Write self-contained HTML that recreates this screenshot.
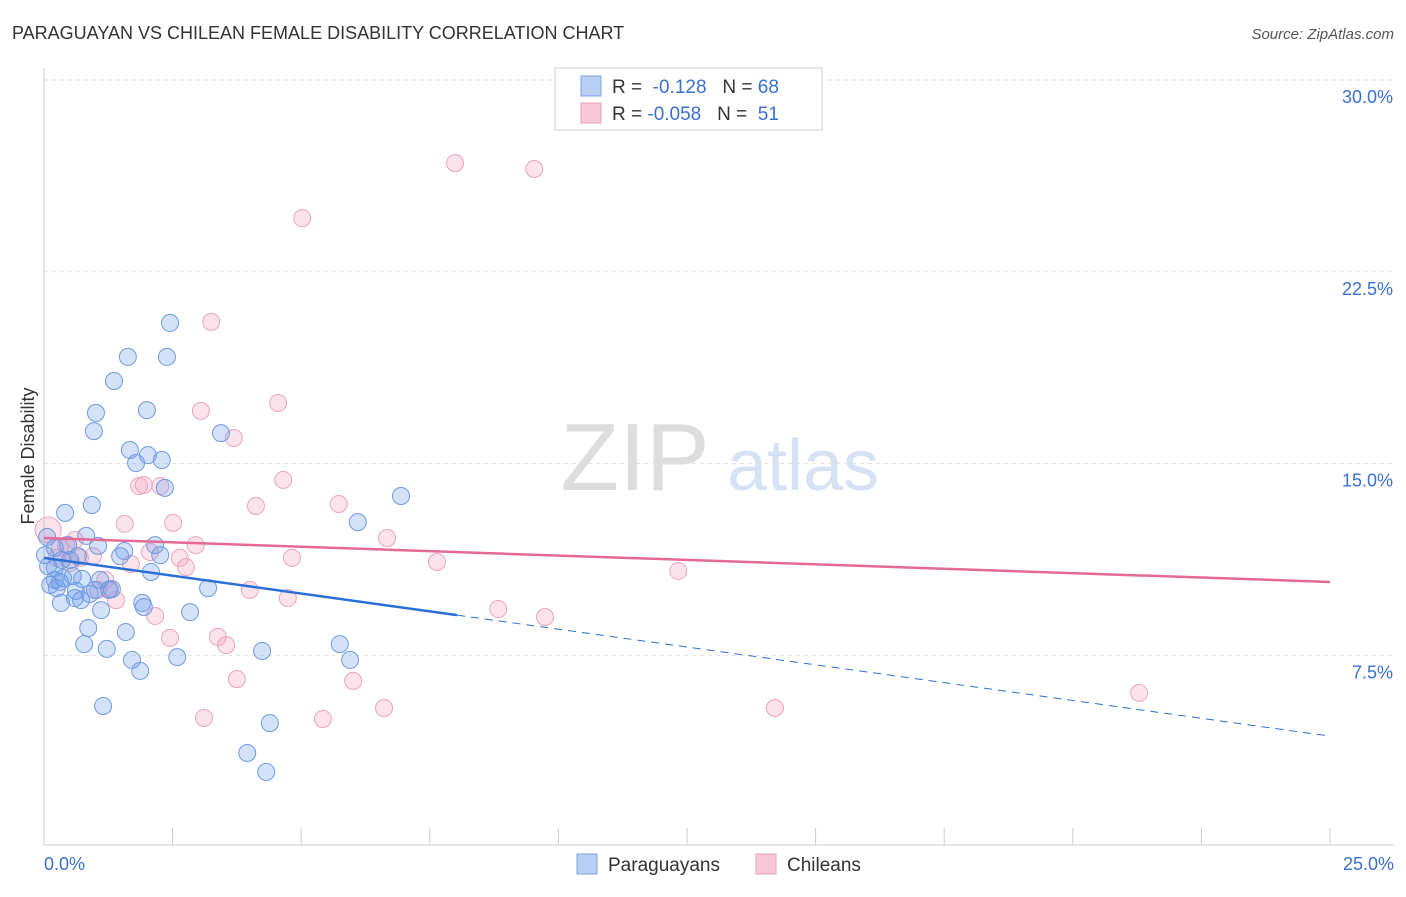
<!DOCTYPE html>
<html><head><meta charset="utf-8">
<style>
body{margin:0;background:#fff;font-family:"Liberation Sans",sans-serif;}
svg text{font-family:"Liberation Sans",sans-serif;}
</style></head>
<body>
<svg id="chart" width="1406" height="892" xmlns="http://www.w3.org/2000/svg">
<text x="12" y="39" font-size="18" fill="#333">PARAGUAYAN VS CHILEAN FEMALE DISABILITY CORRELATION CHART</text>
<text x="1394" y="39" font-size="15" fill="#555" text-anchor="end" font-style="italic">Source: ZipAtlas.com</text>
<g>
<text x="635" y="490" font-size="96" fill="#ddd" text-anchor="middle" font-family="Liberation Serif,serif">ZIP</text>
<text x="803" y="490" font-size="72" fill="#d6e2f3" text-anchor="middle">atlas</text>
</g>
<g id="grid"></g>
<g id="axes"></g>
<g id="marks"></g>
<text transform="translate(34,456) rotate(-90)" font-size="18" fill="#333" text-anchor="middle">Female Disability</text>
<g>
<rect x="555" y="68" width="267" height="62" fill="#fff" stroke="#ccc"/>
<rect x="581" y="76" width="20" height="20" fill="#b8d0f4" stroke="#7aa3e0"/>
<rect x="581" y="103" width="20" height="20" fill="#f8c8d8" stroke="#e8a0b8"/>
<text x="612" y="93" font-size="19" fill="#333">R = <tspan fill="#3a70d0">&#160;-0.128</tspan>&#160;&#160;&#160;N = <tspan fill="#3a70d0">68</tspan></text>
<text x="612" y="120" font-size="19" fill="#333">R = <tspan fill="#3a70d0">-0.058</tspan>&#160;&#160;&#160;N = <tspan fill="#3a70d0">&#160;51</tspan></text>
</g>
<g>
<rect x="577" y="854" width="20" height="20" fill="#b8d0f4" stroke="#7aa3e0"/>
<text x="608" y="871" font-size="19" fill="#333">Paraguayans</text>
<rect x="756" y="854" width="20" height="20" fill="#f8c8d8" stroke="#e8a0b8"/>
<text x="787" y="871" font-size="19" fill="#333">Chileans</text>
</g>
</svg>
<script>
const yTicks=[7.5,15,22.5,30];
const yTickLabels=["7.5%","15.0%","22.5%","30.0%"];
const xTickLabels=["0.0%","25.0%"];
const blueX=[2.45,1.63,2.39,1.36,1.01,2.00,0.97,3.44,1.67,2.02,1.79,2.29,2.35,0.93,6.94,6.10,0.41,0.82,0.06,0.21,0.47,1.05,2.16,1.56,1.48,0.66,2.26,0.08,0.21,2.08,0.56,0.74,0.37,1.09,0.31,0.25,3.19,1.32,0.89,0.62,1.26,0.60,0.72,0.33,1.91,1.94,2.84,1.11,0.86,1.59,0.78,5.75,1.22,4.24,2.59,1.71,5.95,1.87,1.15,4.39,3.95,4.32,0.21,0.51,0.02,0.12,0.99,0.35];
const blueY=[20.50,19.17,19.17,18.23,16.98,17.09,16.27,16.19,15.53,15.33,15.02,15.14,14.05,13.38,13.73,12.71,13.07,12.17,12.13,11.70,11.81,11.78,11.81,11.58,11.38,11.38,11.42,10.99,10.92,10.76,10.60,10.49,10.52,10.45,10.37,10.13,10.13,10.09,9.90,10.02,10.06,9.74,9.66,9.55,9.55,9.39,9.19,9.27,8.57,8.41,7.94,7.94,7.75,7.67,7.43,7.32,7.32,6.89,5.52,4.85,3.68,2.94,10.45,11.23,11.42,10.25,10.06,11.23];
const pinkX=[7.99,9.53,5.02,3.25,4.55,3.05,3.69,4.65,1.85,1.94,2.26,5.73,4.12,1.57,2.51,6.67,0.43,2.95,2.06,0.95,2.64,4.82,0.25,7.64,1.69,2.76,12.33,1.19,1.28,4.00,1.40,4.74,8.83,9.74,2.16,2.45,3.38,3.54,3.75,6.01,21.29,6.61,14.21,3.11,5.42,0.08,0.31,0.70,0.51,1.05,0.60];
const pinkY=[26.75,26.52,24.60,20.54,17.37,17.06,16.00,14.36,14.12,14.16,14.12,13.42,13.34,12.64,12.68,12.09,11.81,11.81,11.54,11.38,11.31,11.31,11.31,11.15,11.07,10.95,10.80,10.45,10.09,10.06,9.66,9.74,9.31,9.00,9.04,8.18,8.22,7.90,6.57,6.50,6.03,5.44,5.44,5.05,5.01,12.40,11.70,11.31,11.11,10.06,12.01];
const blueTrend=[11.31,4.34]; const blueSolidEnd=8.03;
const pinkTrend=[12.09,10.37];

const NS="http://www.w3.org/2000/svg";
const X0=44,XW=1286,Y30=80,PXPER=25.57;
const xs=v=>X0+v/25*XW;
const ys=v=>Y30+(30-v)*PXPER;
function mk(tag,attrs,parent){const e=document.createElementNS(NS,tag);for(const k in attrs)e.setAttribute(k,attrs[k]);parent.appendChild(e);return e;}
const grid=document.getElementById('grid'),axes=document.getElementById('axes'),marks=document.getElementById('marks');
yTicks.forEach((t,i)=>{
 const l=mk('line',{x1:44,x2:1394,y1:ys(t),y2:ys(t),stroke:'#e2e2e2','stroke-dasharray':'4,4'},grid);
 
 
 const tx=mk('text',{x:1393,y:ys(t)+23,'font-size':18,fill:'#3a70d0','text-anchor':'end'},axes);
 tx.textContent=yTickLabels[i];
 
 
});
const ax=mk('line',{x1:44,x2:1394,y1:845,y2:845,stroke:'#ccc'},axes);


const ay=mk('line',{x1:44,x2:44,y1:68,y2:845,stroke:'#ccc'},axes);


for(let i=0;i<=10;i++){
 const t=mk('line',{x1:xs(i*2.5),x2:xs(i*2.5),y1:828,y2:845,stroke:'#ccc'},axes);
 
 
}
[[xTickLabels[0],44,'start'],[xTickLabels[1],1394,'end']].forEach(a=>{
 const t=mk('text',{x:a[1],y:870,'font-size':18,fill:'#3a70d0','text-anchor':a[2]},axes);
 t.textContent=a[0];
 
 
});
pinkX.forEach((x,i)=>{
 const c=mk('circle',{cx:xs(x),cy:ys(pinkY[i]),r:i==45?13:8.5,fill:'rgba(244,160,190,0.3)',stroke:'#eaa5bf','stroke-width':1},marks);
 
 
});
blueX.forEach((x,i)=>{
 const c=mk('circle',{cx:xs(x),cy:ys(blueY[i]),r:8.5,fill:'rgba(110,155,235,0.3)',stroke:'#6f9be0','stroke-width':1},marks);
 
 
});
const by=x=>blueTrend[0]+(blueTrend[1]-blueTrend[0])*x/25;
const b1=mk('line',{x1:xs(0),y1:ys(by(0)),x2:xs(blueSolidEnd),y2:ys(by(blueSolidEnd)),stroke:'#2a6fd6','stroke-width':2.5},marks);


const b2=mk('line',{x1:xs(blueSolidEnd),y1:ys(by(blueSolidEnd)),x2:xs(25),y2:ys(by(25)),stroke:'#2a6fd6','stroke-width':1,'stroke-dasharray':'8,6'},marks);


const p1=mk('line',{x1:xs(0),y1:ys(pinkTrend[0]),x2:xs(25),y2:ys(pinkTrend[1]),stroke:'#e46a95','stroke-width':2.5},marks);


</script>
</body></html>
